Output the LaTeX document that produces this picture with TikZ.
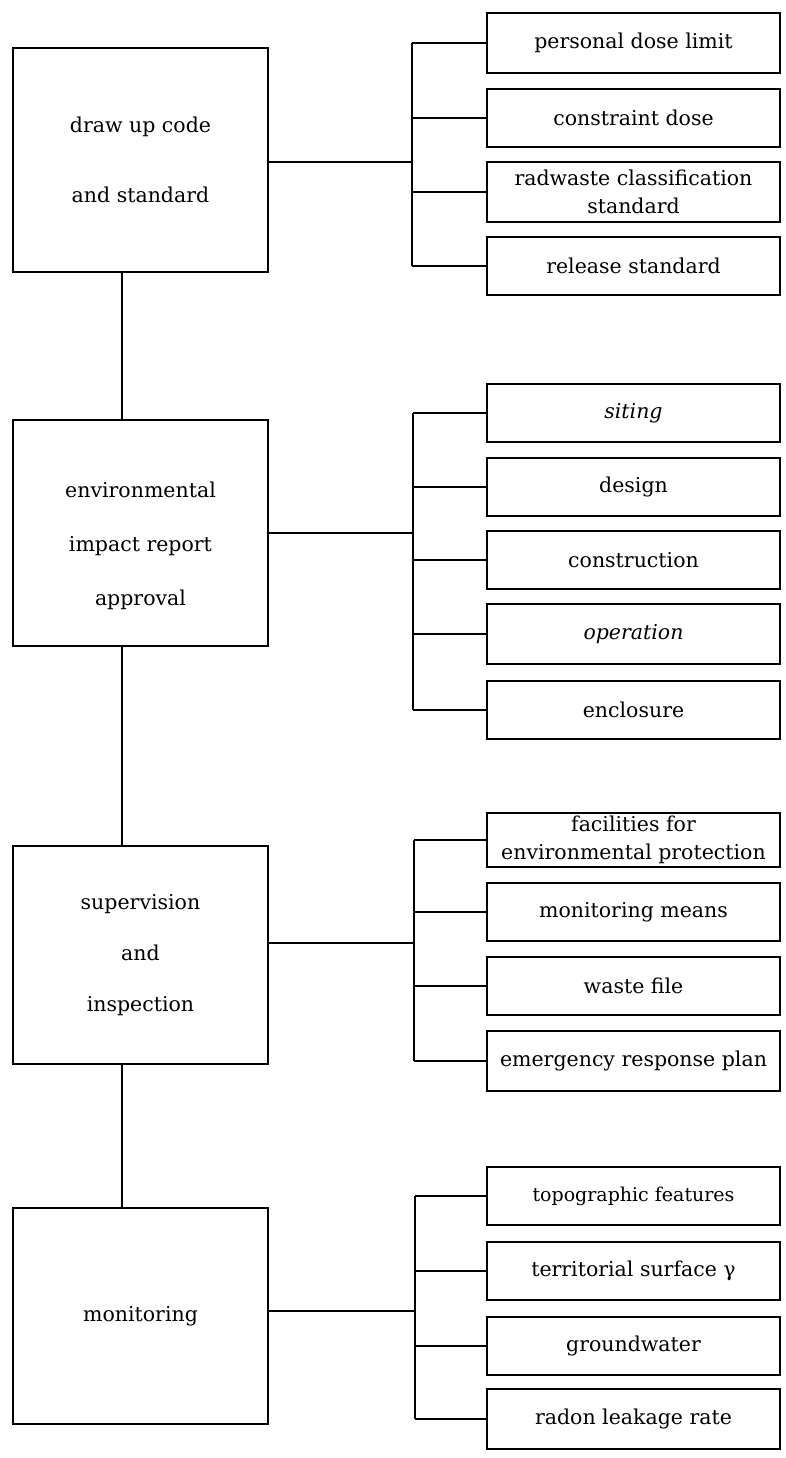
\documentclass[tikz,border=0pt]{standalone}
\usepackage{fontspec}
\setmainfont{DejaVu Serif}
\begin{document}
\begin{tikzpicture}[x=1pt,y=-1pt,
  every node/.style={inner sep=0pt, outer sep=0pt},
  stage/.style={draw, line width=1.5pt, minimum width=255pt, align=center,
    font=\fontsize{20.5}{#1}\selectfont},
  stagetext/.style={align=center, font=\fontsize{20.5}{#1}\selectfont},
  item/.style={draw, line width=1.5pt, minimum width=293pt, align=center,
    font=\fontsize{20.5}{28}\selectfont},
  link/.style={line width=1.5pt}]
\useasboundingbox (0,0) rectangle (785,1458);

% main stages (left column)
\node[stage=70, minimum height=224pt] (code) at (140.5,160) {draw up code\\and standard};
\node[stage=54, minimum height=226pt] (eia) at (140.5,533) {};
\node[stagetext=54] (eiatext) at (140.5,546) {environmental\\impact report\\approval};
\node[stage=51, minimum height=218pt] (sup) at (140.5,955) {supervision\\and\\inspection};
\node[stage=24, minimum height=216pt] (mon) at (140.5,1316) {monitoring};

% items of each stage (right column)
\node[item, minimum height=60pt] (pdl) at (633.5,43) {personal dose limit};
\node[item, minimum height=58pt] (cdose) at (633.5,118) {constraint dose};
\node[item, minimum height=60pt] (rwc) at (633.5,192) {radwaste classification\\standard};
\node[item, minimum height=58pt] (rel) at (633.5,266) {release standard};

\node[item, minimum height=58pt] (sit) at (633.5,413) {\itshape siting};
\node[item, minimum height=58pt] (des) at (633.5,487) {design};
\node[item, minimum height=58pt] (con) at (633.5,560) {construction};
\node[item, minimum height=60pt] (ope) at (633.5,634) {\itshape operation};
\node[item, minimum height=58pt] (enc) at (633.5,710) {enclosure};

\node[item, minimum height=54pt] (fac) at (633.5,840) {facilities for\\environmental protection};
\node[item, minimum height=58pt] (mmean) at (633.5,912) {monitoring means};
\node[item, minimum height=58pt] (wfile) at (633.5,986) {waste file};
\node[item, minimum height=60pt] (erp) at (633.5,1061) {emergency response plan};

\node[item, minimum height=58pt, font=\fontsize{19}{24}\selectfont] (topo) at (633.5,1196) {topographic features};
\node[item, minimum height=58pt] (terr) at (633.5,1271) {territorial surface γ};
\node[item, minimum height=58pt] (gw) at (633.5,1346) {groundwater};
\node[item, minimum height=60pt] (radon) at (633.5,1419) {radon leakage rate};

% bus lines and spine
\coordinate (spine) at (122,0);
\coordinate (bus1) at (412,162);
\coordinate (bus2) at (413,533);
\coordinate (bus3) at (414,943);
\coordinate (bus4) at (415,1311);

\draw[link] (code.south -| spine) -- (eia.north -| spine);
\draw[link] (eia.south -| spine) -- (sup.north -| spine);
\draw[link] (sup.south -| spine) -- (mon.north -| spine);

\draw[link] (code.east |- bus1) -- (bus1);
\draw[link] (bus1 |- pdl.west) -- (bus1 |- rel.west);
\foreach \n in {pdl,cdose,rwc,rel} \draw[link] (bus1 |- \n.west) -- (\n.west);

\draw[link] (eia.east |- bus2) -- (bus2);
\draw[link] (bus2 |- sit.west) -- (bus2 |- enc.west);
\foreach \n in {sit,des,con,ope,enc} \draw[link] (bus2 |- \n.west) -- (\n.west);

\draw[link] (sup.east |- bus3) -- (bus3);
\draw[link] (bus3 |- fac.west) -- (bus3 |- erp.west);
\foreach \n in {fac,mmean,wfile,erp} \draw[link] (bus3 |- \n.west) -- (\n.west);

\draw[link] (mon.east |- bus4) -- (bus4);
\draw[link] (bus4 |- topo.west) -- (bus4 |- radon.west);
\foreach \n in {topo,terr,gw,radon} \draw[link] (bus4 |- \n.west) -- (\n.west);
\end{tikzpicture}
\end{document}
